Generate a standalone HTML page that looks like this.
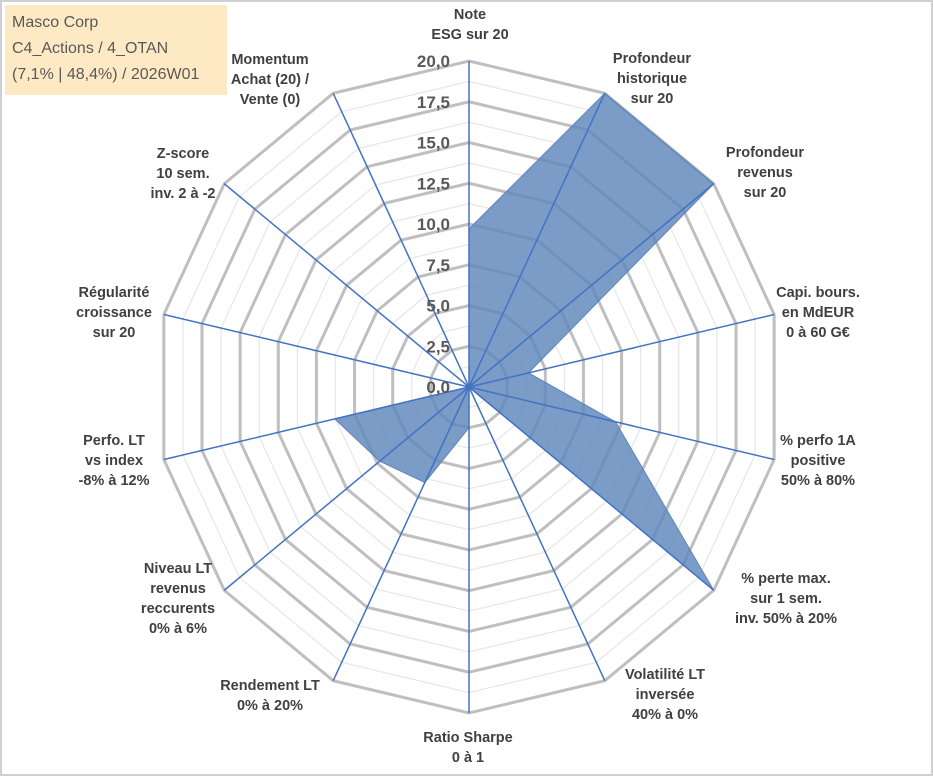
<!DOCTYPE html>
<html><head><meta charset="utf-8"><style>
html,body{margin:0;padding:0;background:#fff;}
svg{display:block;font-family:"Liberation Sans",Arial,sans-serif;}
.lab{font-size:14.5px;font-weight:bold;fill:#404040;text-anchor:middle;}
.tick{font-size:17px;font-weight:bold;fill:#595959;text-anchor:end;}
</style></head><body>
<svg id="chart" width="933" height="776" viewBox="0 0 933 776">
<rect x="1" y="1" width="931" height="774" fill="#fff" stroke="#d0d0d0" stroke-width="2"/>
<g id="grid"></g><g id="series"></g><g id="spokes"></g><g id="ticks"></g><g id="labels"></g>
<g>
<rect x="5" y="5" width="222" height="90" fill="#fde9c4"/>
<text x="12" y="27" font-size="16" fill="#595959">Masco Corp</text>
<text x="12" y="53" font-size="16" fill="#595959">C4_Actions / 4_OTAN</text>
<text x="12" y="79" font-size="16" fill="#595959">(7,1% | 48,4%) / 2026W01</text>
</g>
</svg>
<script>
const categories=[["Note","ESG sur 20"],["Profondeur","historique","sur 20"],["Profondeur","revenus","sur 20"],["Capi. bours.","en MdEUR","0 à 60 G€"],["% perfo 1A","positive","50% à 80%"],["% perte max.","sur 1 sem.","inv. 50% à 20%"],["Volatilité LT","inversée","40% à 0%"],["Ratio Sharpe","0 à 1"],["Rendement LT","0% à 20%"],["Niveau LT","revenus","reccurents","0% à 6%"],["Perfo. LT","vs index","-8% à 12%"],["Régularité","croissance","sur 20"],["Z-score","10 sem.","inv. 2 à -2"],["Momentum","Achat (20) /","Vente (0)"]];
const values=[9.7,20,20,3.9,9.6,20,0,2.5,6.5,7.3,8.8,0,0,0];
const tickLabels=["0,0","2,5","5,0","7,5","10,0","12,5","15,0","17,5","20,0"];
const labelPos=[[470,24],[652,78],[765,172],[818,312],[818,460],[786,598],[665,694],[468,747],[270,695],[178,598],[114,460],[114,312],[183,173],[270,79]];
const NS="http://www.w3.org/2000/svg";
const cx=469,cy=387,Rx=313,Ry=326,maxV=20,N=categories.length;
function ang(i){return i*2*Math.PI/N;}
function pt(i,v){const f=v/maxV;return [cx+f*Rx*Math.sin(ang(i)),cy-f*Ry*Math.cos(ang(i))];}
function mk(tag,attrs,parent){const e=document.createElementNS(NS,tag);for(const k in attrs)e.setAttribute(k,attrs[k]);parent.appendChild(e);return e;}
const grid=document.getElementById('grid');
for(let s=1;s<=16;s++){const v=s*1.25;const pts=[];for(let i=0;i<N;i++)pts.push(pt(i,v).join(','));
const major=s%2===0;
const p=mk('polygon',{points:pts.join(' '),fill:'none',stroke:major?'#bfbfbf':'#e6e6e6','stroke-width':major?3:1.2},grid);

}
const ser=document.getElementById('series');
const poly=mk('polygon',{points:values.map((v,i)=>pt(i,v).join(',')).join(' '),fill:'#5d86ba','fill-opacity':0.82,stroke:'#5d86ba','stroke-width':1},ser);


const sp=document.getElementById('spokes');
for(let i=0;i<N;i++){const [x,y]=pt(i,maxV);const l=mk('line',{x1:cx,y1:cy,x2:x,y2:y,stroke:'#4472c4','stroke-width':1.5},sp);

}
const tk=document.getElementById('ticks');
tickLabels.forEach((t,k)=>{const v=k*2.5;const y=cy-v/maxV*Ry;const e=mk('text',{x:450,y:y+6,class:'tick'},tk);e.textContent=t;

});
const lb=document.getElementById('labels');
categories.forEach((c,i)=>{const [x,y]=labelPos[i];const n=c.length;const t=mk('text',{x:x,y:y+5-(n-1)*10,class:'lab'},lb);


c.forEach((line,j)=>{const ts=mk('tspan',{x:x,dy:j?20:0},t);ts.textContent=line;});});
</script>
</body></html>
